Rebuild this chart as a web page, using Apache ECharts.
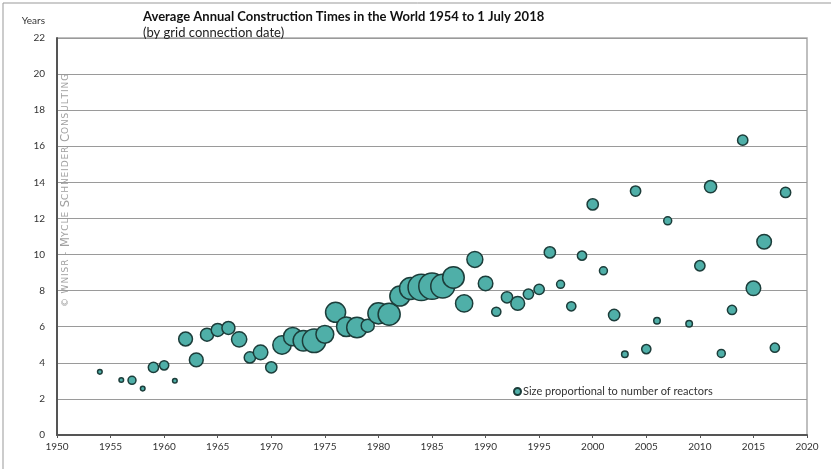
<!DOCTYPE html>
<html>
<head>
<meta charset="utf-8">
<script src="https://cdn.jsdelivr.net/npm/echarts@6/dist/echarts.min.js"></script>
<style>
  html, body { margin: 0; padding: 0; background: #fff; }
  #chart { width: 831px; height: 469px; }
</style>
</head>
<body>
<div id="chart"></div>
<script>
// grid connection year, average construction time (years), number of reactors
const years = [1954, 1956, 1957, 1958, 1959, 1960, 1961, 1962, 1963, 1964, 1965, 1966, 1967, 1968, 1969,
  1970, 1971, 1972, 1973, 1974, 1975, 1976, 1977, 1978, 1979, 1980, 1981, 1982, 1983, 1984, 1985, 1986,
  1987, 1988, 1989, 1990, 1991, 1992, 1993, 1994, 1995, 1996, 1997, 1998, 1999, 2000, 2001, 2002, 2003,
  2004, 2005, 2006, 2007, 2009, 2010, 2011, 2012, 2013, 2014, 2015, 2016, 2017, 2018];
const buildTimes = [3.5, 3.05, 3.03, 2.57, 3.75, 3.86, 3.01, 5.32, 4.16, 5.56, 5.82, 5.93, 5.3, 4.3, 4.58,
  3.75, 4.99, 5.45, 5.22, 5.22, 5.58, 6.8, 6.0, 5.96, 6.06, 6.74, 6.69, 7.7, 8.12, 8.18, 8.25, 8.25,
  8.73, 7.29, 9.73, 8.4, 6.83, 7.63, 7.29, 7.81, 8.07, 10.12, 8.35, 7.13, 9.94, 12.78, 9.1, 6.65, 4.47,
  13.52, 4.76, 6.33, 11.87, 6.17, 9.38, 13.76, 4.52, 6.93, 16.34, 8.13, 10.71, 4.84, 13.44];
const reactors = [1, 1, 3, 1, 5, 4, 1, 9, 9, 8, 8, 8, 11, 6, 10,
  6, 16, 16, 20, 26, 15, 19, 18, 20, 8, 21, 23, 19, 23, 33, 33, 27,
  22, 14, 12, 10, 4, 6, 9, 5, 5, 6, 3, 4, 4, 6, 3, 6, 2,
  5, 4, 2, 3, 2, 5, 7, 3, 4, 5, 10, 10, 4, 5];
const yTicks = [0, 2, 4, 6, 8, 10, 12, 14, 16, 18, 20, 22];

const points = years.map((y, i) => [y, buildTimes[i], reactors[i]]);
const font = 'Lato';

// spaced-out small caps for the watermark
const sp = s => s.split('').join('\u200A') + '\u200A';
const mark = '{s|' + sp('© WNISR - ') + '}{b|M}{s|' + sp('YCLE ') + '}{b|S}{s|' + sp('CHNEIDER ') +
  '}{b|C}{s|' + sp('ONSULTING') + '}';

const chart = echarts.init(document.getElementById('chart'));
chart.setOption({
  backgroundColor: '#fff',
  animation: false,
  textStyle: { fontFamily: font },
  title: {
    text: 'Average Annual Construction Times in the World 1954 to 1 July 2018',
    subtext: '(by grid connection date)',
    left: 138,
    top: 5,
    itemGap: 3,
    textStyle: { fontFamily: font, fontSize: 13, fontWeight: 'bold', color: '#111' },
    subtextStyle: { fontFamily: font, fontSize: 13, color: '#222' }
  },
  legend: {
    left: 508,
    top: 381,
    itemWidth: 7,
    itemHeight: 7,
    itemGap: 3,
    textStyle: { fontFamily: font, fontSize: 11, color: '#333', padding: [0, 0, 0, -3] },
    data: ['Size proportional to number of reactors']
  },
  grid: { left: 57, right: 24, top: 38, bottom: 34 },
  xAxis: {
    type: 'value',
    min: 1950,
    max: 2020,
    interval: 5,
    axisLine: { show: true, lineStyle: { color: '#555', width: 2 } },
    axisTick: { show: true, length: 3, lineStyle: { color: '#555' } },
    axisLabel: { color: '#333', fontSize: 10, margin: 7, fontFamily: font, formatter: v => String(v) },
    splitLine: { show: false }
  },
  yAxis: {
    type: 'value',
    min: 0,
    max: 22,
    interval: 2,
    name: 'Years',
    nameLocation: 'end',
    nameGap: 12,
    nameTextStyle: { color: '#333', fontSize: 10, align: 'right', padding: [0, 12, 0, 0] },
    axisLine: { show: true, lineStyle: { color: '#555', width: 2 } },
    axisTick: { show: false },
    axisLabel: {
      color: '#333', fontSize: 10, margin: 12, fontFamily: font,
      formatter: v => (yTicks.includes(v) ? String(v) : '')
    },
    splitLine: { show: true, lineStyle: { color: '#9a9a9a', width: 1 } }
  },
  graphic: [
    // outer frame
    { type: 'rect', shape: { x: 3, y: 3, width: 860, height: 500 },
      style: { fill: 'none', stroke: '#999', lineWidth: 1 }, silent: true },
    // plot border (top / right)
    { type: 'polyline', shape: { points: [[57, 38], [807, 38], [807, 435]] },
      style: { stroke: '#aaa', lineWidth: 1.5, fill: 'none' }, silent: true },
    // copyright watermark
    {
      type: 'text', x: 66, y: 190, rotation: Math.PI / 2,
      style: {
        text: mark,
        align: 'center', verticalAlign: 'middle',
        rich: {
          s: { fontFamily: 'DejaVu Sans', fontSize: 9, fill: '#a0a0a0' },
          b: { fontFamily: 'DejaVu Sans', fontSize: 11.5, fill: '#a0a0a0' }
        }
      },
      silent: true
    }
  ],
  series: [{
    name: 'Size proportional to number of reactors',
    type: 'scatter',
    data: points,
    symbol: 'circle',
    symbolSize: d => 4.6 * Math.sqrt(d[2]),
    itemStyle: { color: '#4fafa8', borderColor: '#1c3d3a', borderWidth: 1.5, opacity: 1 }
  }]
});
</script>
</body>
</html>
